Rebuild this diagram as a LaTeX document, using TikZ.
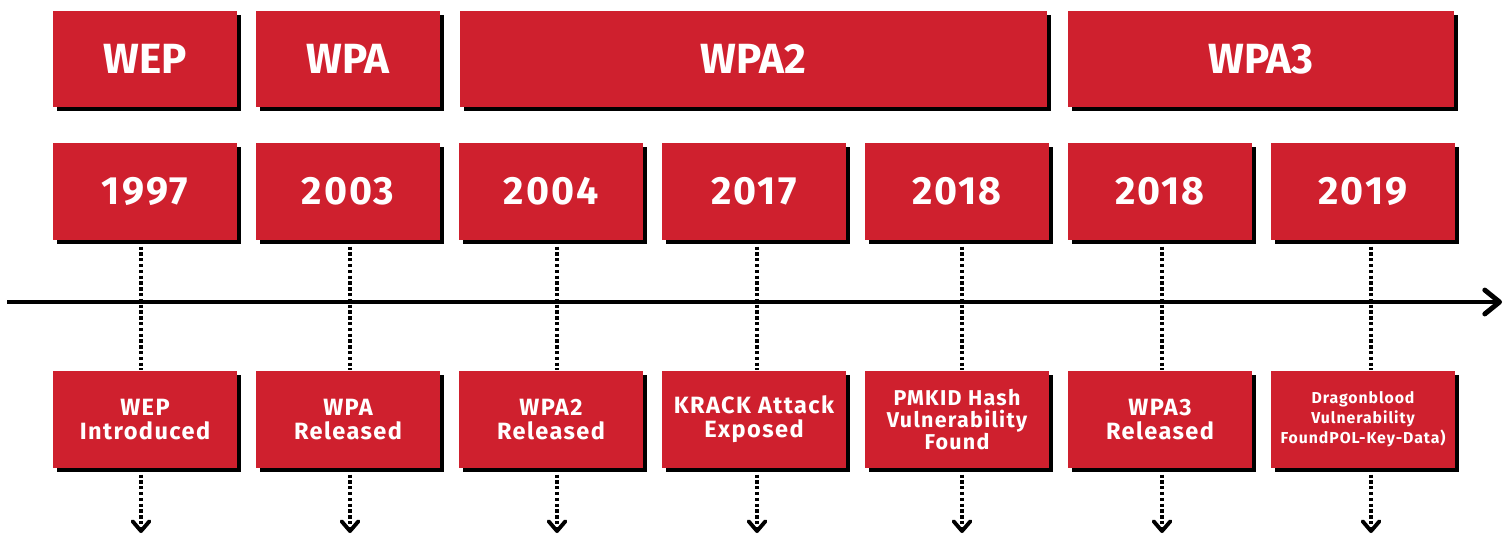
\documentclass[tikz,border=0pt]{standalone}
\usepackage{fontspec}
\setmainfont{Fira Sans}
\usetikzlibrary{shadows,arrows.meta,calc,positioning}
\definecolor{wifired}{RGB}{207,32,46}

\begin{document}
\begin{tikzpicture}[x=0.01cm,y=-0.01cm,
  redbox/.style={fill=wifired,text=white,font=\bfseries,inner sep=0pt,
    minimum width=1.84cm,minimum height=0.97cm,align=center,
    drop shadow={shadow xshift=1.15pt,shadow yshift=-1.15pt,opacity=1,fill=black}},
  erabox/.style={redbox,font=\bfseries\fontsize{12}{14}\selectfont,minimum height=0.96cm},
  yearbox/.style={redbox,font=\bfseries\fontsize{11.2}{13}\selectfont\addfontfeature{LetterSpace=5}},
  eventbox/.style={redbox,font=\bfseries\fontsize{6.7}{6.9}\selectfont\addfontfeature{LetterSpace=6}},
  dotline/.style={line width=1.05pt,dash pattern=on 0.95pt off 0.7pt},
  dotarrow/.style={dotline,-{Straight Barb[length=2.8pt,width=4.8pt,line width=1.1pt,line cap=round,line join=round]}},
  timeline/.style={line width=1.3pt,-{Straight Barb[length=4.2pt,width=6.8pt,line width=1.4pt,line cap=round,line join=round]}}]

\useasboundingbox (0,0) rectangle (1510,536);

\coordinate (t0) at (7,302);
\coordinate (t1) at (1502,302);
\coordinate (tail) at (0,533);

\node[erabox] (wep)  at ( 145,59) {WEP};
\node[erabox] (wpa)  at ( 348,59) {WPA};
\node[erabox,minimum width=5.87cm] (wpa2) at (753.5,59) {WPA2};
\node[erabox,minimum width=3.85cm] (wpa3) at (1261,59) {WPA3};

\foreach \yr [count=\i] in {1997,2003,2004,2017,2018,2018,2019}
  \node[yearbox] (y\i) at ({145+203*(\i-1)},191.5) {\yr};

\node[eventbox] (e1) at ( 145,419.5) {WEP\\Introduced};
\node[eventbox] (e2) at ( 348,419.5) {WPA\\Released};
\node[eventbox] (e3) at ( 551,419.5) {WPA2\\Released};
\node[eventbox] (e4) at ( 754,419.5) {KRACK Attack\\Exposed};
\node[eventbox,font=\bfseries\fontsize{6.1}{6.2}\selectfont\addfontfeature{LetterSpace=6}] (e5) at ( 957,419.5)
  {PMKID Hash\\Vulnerability\\Found};
\node[eventbox] (e6) at (1160,419.5) {WPA3\\Released};
\node[eventbox,font=\bfseries\fontsize{4.5}{5.7}\selectfont\addfontfeature{LetterSpace=6}] (e7) at (1363,419.5)
  {Dragonblood\\Vulnerability\\FoundPOL-Key-Data)};

\foreach \i/\dx in {1/141,2/350,3/557,4/757,5/962,6/1162,7/1371}{
  \coordinate (d\i) at (\dx,0);
  \draw[dotline]  (y\i.south -| d\i) -- (e\i.north -| d\i);
  \draw[dotarrow] (e\i.south -| d\i) -- (d\i |- tail);
}

\draw[timeline] (t0) -- (t1);

\end{tikzpicture}
\end{document}
